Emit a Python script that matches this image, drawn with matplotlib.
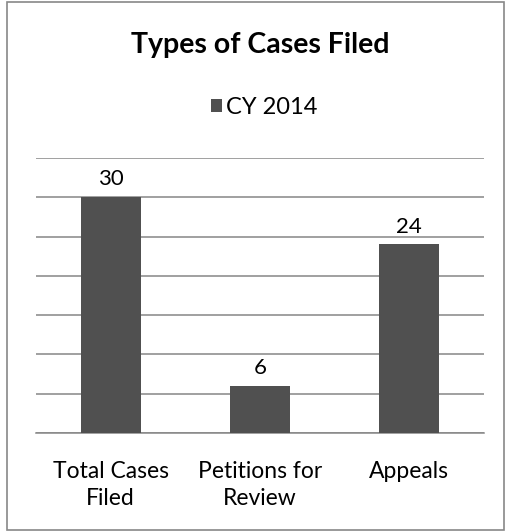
import matplotlib
matplotlib.use("Agg")
import matplotlib.pyplot as plt
from matplotlib.patches import Rectangle
import numpy as np

plt.rcParams["font.family"] = ["Lato", "DejaVu Sans"]

categories = ["Total Cases\nFiled", "Petitions for\nReview", "Appeals"]
values = [30, 6, 24]
series_name = "CY 2014"
title = "Types of Cases Filed"

BAR_COLOR = "#505050"
GRID_COLOR = "#868686"

fig = plt.figure(figsize=(5.06, 5.31), dpi=100)
ax = fig.add_axes([0.0711, 0.1846, 0.8854, 0.5178])

x = np.arange(len(categories))
bars = ax.bar(x, values, width=0.4, color=BAR_COLOR, label=series_name, zorder=3)
for bar, val in zip(bars, values):
    ax.text(bar.get_x() + bar.get_width() / 2, val + 1.0, f"{val}",
            ha="center", va="bottom", fontsize=16, color="#000000")

ax.set_xlim(-0.5, len(categories) - 0.5)
ax.set_ylim(0, 35)
ax.set_yticks(np.arange(0, 36, 5))
ax.yaxis.grid(True, color=GRID_COLOR, linewidth=1.1, zorder=0)
ax.tick_params(axis="y", left=False, labelleft=False)
ax.tick_params(axis="x", bottom=False, pad=17)
ax.set_xticks(x)
ax.set_xticklabels(categories, fontsize=16.5, linespacing=1.3)
for s in ["top", "right", "left"]:
    ax.spines[s].set_visible(False)
ax.spines["bottom"].set_color(GRID_COLOR)
ax.spines["bottom"].set_linewidth(1.1)

fig.text(0.515, 0.915, title, ha="center", va="center", fontsize=20.5, fontweight="bold")
fig.legend(loc="center", bbox_to_anchor=(0.522, 0.798), frameon=False,
           fontsize=17, handlelength=0.45, handleheight=0.45, handletextpad=0.15)

fig.patches.append(Rectangle((7 / 506, 1 / 531), 497 / 506, 528 / 531,
                             transform=fig.transFigure, fill=False,
                             edgecolor="#888888", linewidth=1.2))

fig.savefig("out.png", dpi=100)
